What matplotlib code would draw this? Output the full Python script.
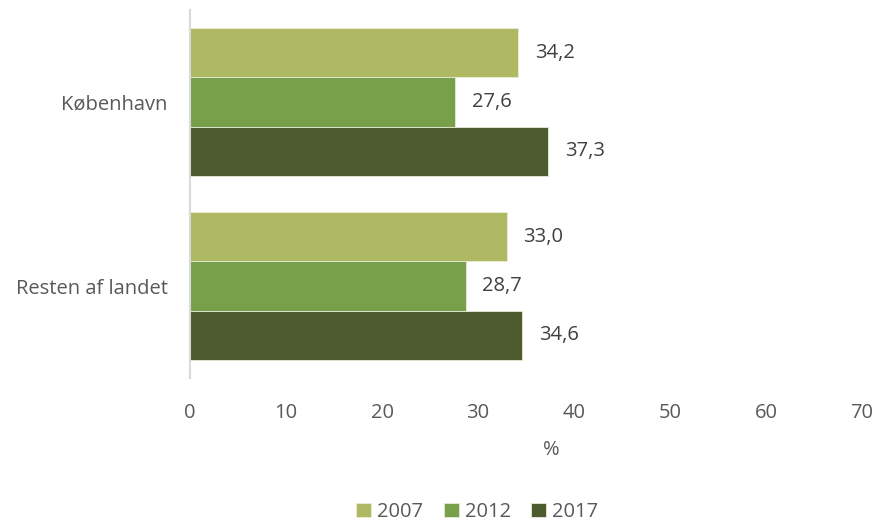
import matplotlib.pyplot as plt
import numpy as np

# data
categories = ["København", "Resten af landet"]
years = ["2007", "2012", "2017"]
values_2007 = [34.2, 33.0]
values_2012 = [27.6, 28.7]
values_2017 = [37.3, 34.6]
colors = ["#AFB863", "#789F4A", "#4D5B2F"]

plt.rcParams["font.family"] = ["Open Sans", "DejaVu Sans"]
FS = 14.5

fig = plt.figure(figsize=(8.79, 5.27), dpi=100)
ax = fig.add_axes([190 / 879, 1 - 378 / 527, 672 / 879, 368 / 527])

y = np.arange(len(categories))
h = 0.8 / 3
series = [values_2007, values_2012, values_2017]
for i, (vals, year, col) in enumerate(zip(series, years, colors)):
    pos = y - 0.4 + h * (i + 0.5)
    ax.barh(pos, vals, height=h, color=col, edgecolor="#E8EDD8", linewidth=0.6, label=year)
    for p, v in zip(pos, vals):
        ax.annotate(f"{v:.1f}".replace(".", ","), (v, p), xytext=(12, 0),
                    textcoords="offset points", va="center", ha="left",
                    fontsize=FS, color="#404040")

ax.set_ylim(1.5, -0.5)
ax.set_xlim(0, 70)
ax.set_xticks(range(0, 71, 10))
ax.set_yticks(y)
ax.set_yticklabels(categories)
ax.tick_params(axis="both", length=0, labelsize=FS, labelcolor="#595959")
ax.tick_params(axis="x", pad=18)
ax.tick_params(axis="y", pad=16)
for s in ["top", "right", "bottom"]:
    ax.spines[s].set_visible(False)
ax.spines["left"].set_color("#D9D9D9")
ax.spines["left"].set_linewidth(1.5)

# % label sits a bit right of centre
ax.set_xlabel("%", fontsize=FS, color="#595959")
ax.xaxis.set_label_coords((551 - 190) / 672, -(450 - 378) / 368, transform=ax.transAxes)
ax.xaxis.label.set_va("center")

fig.legend(loc="lower center", ncol=3, frameon=False, fontsize=FS,
           bbox_to_anchor=(0.543, -0.025), handlelength=0.75, handleheight=0.75,
           handletextpad=0.3, columnspacing=1.0, labelcolor="#595959")

plt.savefig("out.png", dpi=100)
